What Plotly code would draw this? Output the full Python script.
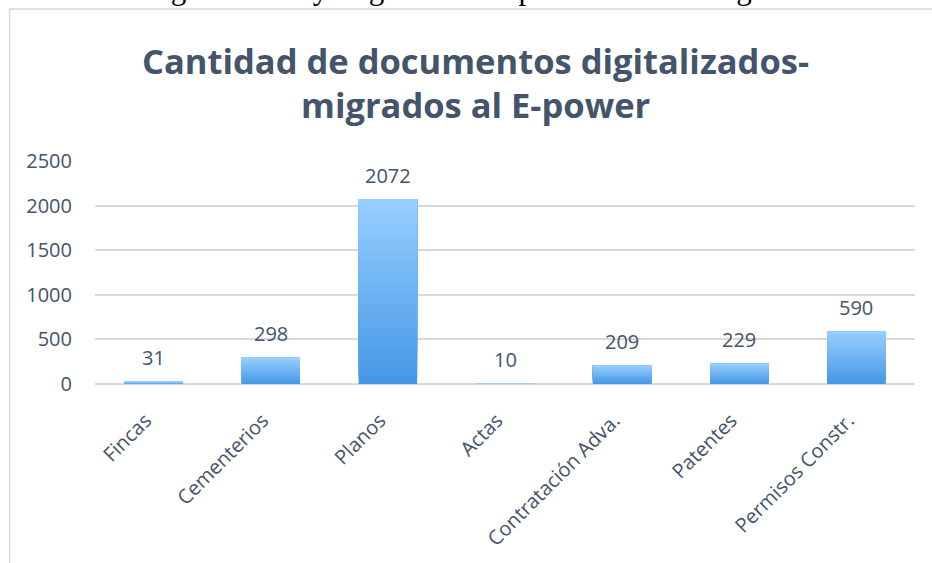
import plotly.graph_objects as go

categories = ["Fincas", "Cementerios", "Planos", "Actas", "Contratación Adva.", "Patentes", "Permisos Constr."]
values = [31, 298, 2072, 10, 209, 229, 590]
y_ticks = [0, 500, 1000, 1500, 2000, 2500]

title_line1 = "Cantidad de documentos digitalizados-"
title_line2 = "migrados al E-power"
caption = "documentos digitalizados y migrados al E-power: 3.439 imágenes"

W, H = 932, 563
L, R, T, B = 94.5, 16.5, 161, 179
PW, PH = W - L - R, H - T - B

def px_x(x):
    return (x - L) / PW

def px_y(y):
    return 1 - (y - T) / PH

TEXT = "#44546A"
FONT = "Open Sans"
top_rgb = (150, 206, 255)
bot_rgb = (70, 152, 230)

N = 30
fig = go.Figure()
for k in range(N):
    t = k / (N - 1)  # 0 = bottom (dark), 1 = top (light)
    c = tuple(round(bot_rgb[i] + (top_rgb[i] - bot_rgb[i]) * t) for i in range(3))
    col = "rgb(%d,%d,%d)" % c
    if k == 0:
        fig.add_trace(go.Bar(
            x=categories, y=values,
            marker=dict(color=col, line=dict(width=0)),
            hoverinfo="skip", showlegend=False,
        ))
    else:
        fig.add_trace(go.Bar(
            x=categories, y=[v * (1 - k / N) for v in values],
            base=[v * k / N for v in values],
            marker=dict(color=col, line=dict(width=0)),
            hoverinfo="skip", showlegend=False,
        ))

annotations = [
    dict(text="<b>%s</b>" % title_line1, xref="paper", yref="paper",
         x=px_x(475.5), y=px_y(60), xanchor="center", yanchor="middle",
         showarrow=False, font=dict(family=FONT, size=34.5, color=TEXT)),
    dict(text="<b>%s</b>" % title_line2, xref="paper", yref="paper",
         x=px_x(475.5), y=px_y(105), xanchor="center", yanchor="middle",
         showarrow=False, font=dict(family=FONT, size=34.5, color=TEXT)),
    dict(text=caption, xref="paper", yref="paper",
         x=px_x(809), y=px_y(-12), xanchor="right", yanchor="middle",
         showarrow=False, font=dict(family="Liberation Serif", size=31, color="black")),
]
for cat, v in zip(categories, values):
    annotations.append(dict(text=str(v), x=cat, y=v, xref="x", yref="y",
                            yshift=24, yanchor="middle", xanchor="center",
                            showarrow=False,
                            font=dict(family=FONT, size=20, color=TEXT)))

fig.update_layout(
    width=W, height=H,
    margin=dict(l=L, r=R, t=T, b=B),
    paper_bgcolor="white", plot_bgcolor="white",
    barmode="overlay", bargap=0.5,
    font=dict(family=FONT, color=TEXT, size=20),
    xaxis=dict(tickangle=-45, showgrid=False, showline=False, ticks="",
               tickfont=dict(family=FONT, size=20, color=TEXT),
               ticklabelstandoff=20, ticklabelshift=-8),
    yaxis=dict(range=[0, 2500], tickvals=y_ticks, showgrid=True,
               gridcolor="#D9D9D9", gridwidth=1.5, zeroline=True,
               zerolinecolor="#D9D9D9", zerolinewidth=1.5, showline=False,
               ticks="", ticklabelstandoff=22,
               tickfont=dict(family=FONT, size=20, color=TEXT)),
    shapes=[dict(type="rect", xref="paper", yref="paper",
                 x0=px_x(9), x1=px_x(1000), y0=px_y(9), y1=px_y(700),
                 line=dict(color="#D9D9D9", width=1.5), fillcolor="rgba(0,0,0,0)",
                 layer="below")],
    annotations=annotations,
)

fig.write_html("out.html", config={"displayModeBar": False},
               post_script="document.body.style.margin='0px';")
